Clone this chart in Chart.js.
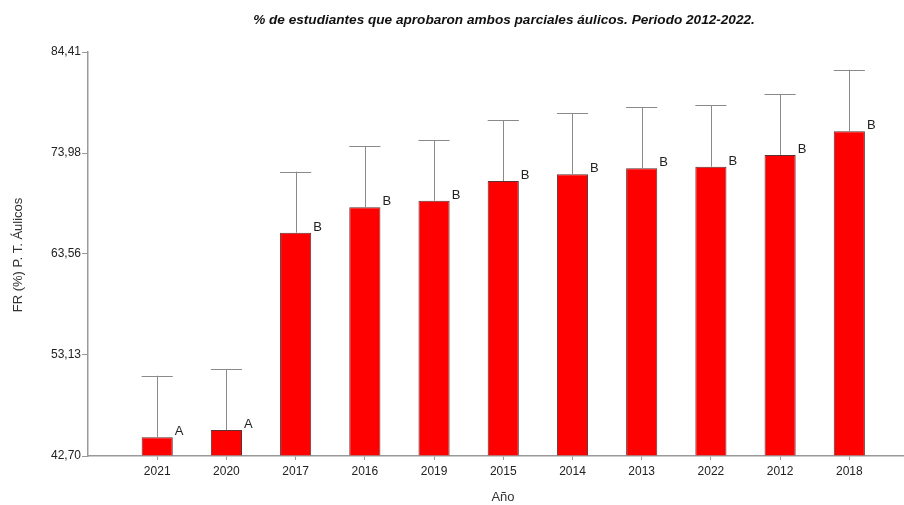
<!DOCTYPE html>
<html>
<head>
<meta charset="utf-8">
<script src="https://cdn.jsdelivr.net/npm/chart.js@4/dist/chart.umd.min.js"></script>
<style>
  html, body { margin: 0; padding: 0; background: #fff; }
  #wrap { width: 904px; height: 505px; position: relative; }
</style>
</head>
<body>
<div id="wrap"><canvas id="chart"></canvas></div>
<script>
// categories (order as in the chart) and values
const years = ['2021', '2020', '2017', '2016', '2019', '2015', '2014', '2013', '2022', '2012', '2018'];
const means = [44.63, 45.38, 65.75, 68.38, 69.06, 71.09, 71.78, 72.40, 72.57, 73.78, 76.22];
const upper = [50.99, 51.68, 72.05, 74.67, 75.32, 77.39, 78.11, 78.73, 78.91, 80.07, 82.58];
const groups = ['A', 'A', 'B', 'B', 'B', 'B', 'B', 'B', 'B', 'B', 'B'];
const yTicks = [42.70, 53.13, 63.56, 73.98, 84.41];

const titleText = '% de estudiantes que aprobaron ambos parciales áulicos. Periodo 2012-2022.';
const yTitle = 'FR (%) P. T. Áulicos';
const xTitle = 'Año';

const FONT = '"Liberation Sans", Arial, sans-serif';
const fmt = v => v.toFixed(2).replace('.', ',');

// error bars, group letters and titles
const extras = {
    id: 'extras',
    afterDatasetsDraw(chart) {
        const ctx = chart.ctx;
        const ys = chart.scales.y;
        const meta = chart.getDatasetMeta(0);
        ctx.save();
        meta.data.forEach((bar, i) => {
            const half = bar.width / 2;
            const top = ys.getPixelForValue(means[i]);
            const up = ys.getPixelForValue(upper[i]);
            ctx.strokeStyle = '#8a8a8a';
            ctx.lineWidth = 1;
            ctx.beginPath();
            ctx.moveTo(Math.round(bar.x) + 0.5, top);
            ctx.lineTo(Math.round(bar.x) + 0.5, up);
            ctx.moveTo(bar.x - half, Math.round(up) + 0.5);
            ctx.lineTo(bar.x + half, Math.round(up) + 0.5);
            ctx.stroke();
            ctx.fillStyle = '#222';
            ctx.font = '13px ' + FONT;
            ctx.textAlign = 'left';
            ctx.textBaseline = 'alphabetic';
            ctx.fillText(groups[i], bar.x + half + 2, top - 2);
        });
        ctx.fillStyle = '#111';
        ctx.font = 'italic bold 13.6px ' + FONT;
        ctx.textAlign = 'center';
        ctx.textBaseline = 'middle';
        ctx.fillText(titleText, 504, 20);
        ctx.fillStyle = '#333';
        ctx.font = '13px ' + FONT;
        ctx.fillText(xTitle, 503, 497);
        ctx.translate(18, 255);
        ctx.rotate(-Math.PI / 2);
        ctx.fillText(yTitle, 0, 0);
        ctx.restore();
    }
};

new Chart(document.getElementById('chart'), {
    type: 'bar',
    data: {
        datasets: [{
            data: years.map((y, i) => ({ x: i + 1, y: means[i] })),
            backgroundColor: '#ff0000',
            borderColor: '#5e3030',
            borderWidth: 1,
            base: yTicks[0],
            categoryPercentage: 1,
            barPercentage: 0.45
        }]
    },
    options: {
        responsive: true,
        maintainAspectRatio: false,
        animation: false,
        layout: { padding: { top: 52, right: 0, left: 0, bottom: 0 } },
        plugins: { legend: { display: false }, title: { display: false }, tooltip: { enabled: false } },
        scales: {
            x: {
                type: 'linear',
                offset: false,
                min: 0,
                max: 11.79,
                afterFit: s => { s.height = 49; },
                afterBuildTicks: s => { s.ticks = years.map((y, i) => ({ value: i + 1 })); },
                ticks: {
                    callback: (v) => years[v - 1],
                    color: '#222',
                    font: { family: FONT, size: 12 },
                    padding: 4,
                    maxRotation: 0,
                    autoSkip: false
                },
                grid: { offset: false, drawOnChartArea: false, drawTicks: true, tickLength: 4, color: '#9a9a9a' },
                border: { color: '#9a9a9a', width: 1.5 }
            },
            y: {
                min: yTicks[0],
                max: yTicks[yTicks.length - 1],
                afterFit: s => { s.width = 88; },
                afterBuildTicks: s => { s.ticks = yTicks.map(v => ({ value: v })); },
                ticks: {
                    callback: v => fmt(v),
                    color: '#222',
                    font: { family: FONT, size: 12 },
                    padding: 1
                },
                grid: { drawOnChartArea: false, drawTicks: true, tickLength: 6, color: '#9a9a9a' },
                border: { color: '#9a9a9a', width: 1.5 }
            }
        }
    },
    plugins: [extras]
});
</script>
</body>
</html>
